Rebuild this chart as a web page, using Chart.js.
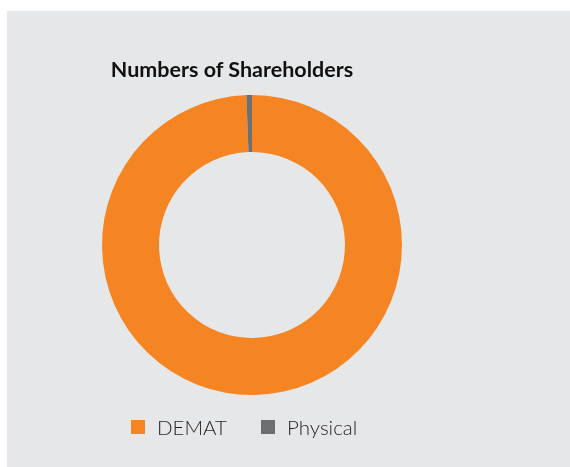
<!DOCTYPE html>
<html>
<head>
<meta charset="utf-8">
<script src="https://cdn.jsdelivr.net/npm/chart.js@4/dist/chart.umd.min.js"></script>
<style>
  html, body { margin: 0; padding: 0; background: #ffffff; }
  body { width: 570px; height: 467px; position: relative; overflow: hidden; }
  .panel { position: absolute; left: 7px; top: 11px; right: 0; bottom: 0; background: #e6e7e8; }
  #chartWrap { position: absolute; left: 0; top: 0; width: 570px; height: 467px; }
  .title {
    position: absolute; left: 0; width: 464px; top: 56px; text-align: center;
    font-family: Lato, "Open Sans", sans-serif; font-weight: 700; font-size: 21.5px; line-height: 26px;
    color: #111111; margin: 0;
  }
  .legend { position: absolute; left: 131px; top: 414px; display: flex; align-items: center;
    font-family: Lato, "Open Sans", sans-serif; font-weight: 300; font-size: 20.5px; line-height: 26px; color: #231f20; }
  .legend .item { display: flex; align-items: center; margin-right: 34px; }
  .legend .swatch { width: 14px; height: 14px; margin-right: 12px; }
</style>
</head>
<body>
<div class="panel"></div>
<div id="chartWrap"><canvas id="shareholdersChart" width="570" height="467"></canvas></div>
<h3 class="title">Numbers of Shareholders</h3>
<div class="legend" id="legend"></div>

<script>
// Shareholding split by mode
const categories = ['DEMAT', 'Physical'];
const shareholders = [99.4, 0.6];
const sliceColors = ['#f58423', '#6d6e70'];

const chart = new Chart(document.getElementById('shareholdersChart'), {
    type: 'doughnut',
    data: {
        labels: categories,
        datasets: [{
            data: shareholders,
            backgroundColor: sliceColors,
            borderWidth: 0
        }]
    },
    options: {
        responsive: false,
        animation: false,
        cutout: '62%',
        layout: {
            // puts the ring centre at (252, 245) with a 150px radius
            padding: { left: 102, right: 168, top: 95, bottom: 72 }
        },
        plugins: {
            legend: { display: false },
            title: { display: false },
            tooltip: { enabled: false }
        }
    }
});

// Legend built from the chart's own labels
const legendEl = document.getElementById('legend');
chart.data.labels.forEach((label, i) => {
    const item = document.createElement('div');
    item.className = 'item';
    const swatch = document.createElement('span');
    swatch.className = 'swatch';
    swatch.style.background = chart.data.datasets[0].backgroundColor[i];
    const text = document.createElement('span');
    text.textContent = label;
    item.appendChild(swatch);
    item.appendChild(text);
    legendEl.appendChild(item);
});
</script>
</body>
</html>
